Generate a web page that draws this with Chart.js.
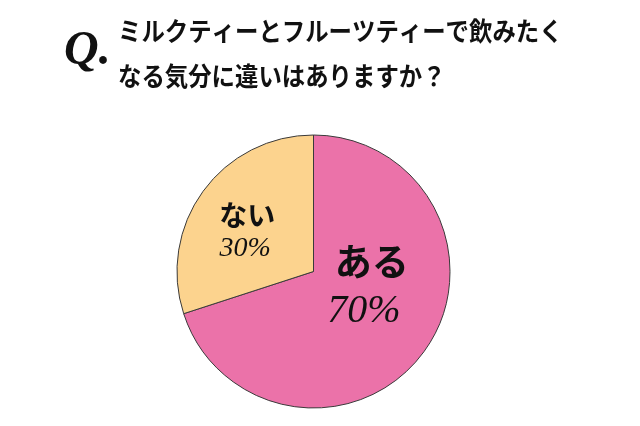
<!DOCTYPE html>
<html>
<head>
<meta charset="utf-8">
<script src="https://cdn.jsdelivr.net/npm/chart.js@4"></script>
<style>
  html, body { margin: 0; padding: 0; background: #ffffff; }
  #wrap { width: 640px; height: 426px; }
</style>
</head>
<body>
<div id="wrap"><canvas id="c" width="640" height="426"></canvas></div>
<script>
// ---- data ----
const categories = ['ある', 'ない'];
const values = [70, 30];
const percentLabels = ['70%', '30%'];
const titleLines = ['ミルクティーとフルーツティーで飲みたく', 'なる気分に違いはありますか？'];
const questionMark = 'Q.';

// ---- styles ----
const sliceColors = ['#EB72A9', '#FCD38E'];
const labelStyle = [
  { name: { dx: 0.427, dy: -0.069, font: '700 37px "Noto Sans CJK JP"' },
    pct:  { dx: 0.369, dy: 0.296,  font: 'italic 40px "Liberation Serif"' } },
  { name: { dx: -0.485, dy: -0.412, font: '700 28px "Noto Sans CJK JP"' },
    pct:  { dx: -0.50, dy: -0.164, font: 'italic 28px "Liberation Serif"' } }
];

const labelPlugin = {
  id: 'sliceLabels',
  afterDatasetsDraw(chart) {
    const ctx = chart.ctx;
    const meta = chart.getDatasetMeta(0);
    meta.data.forEach((arc, i) => {
      const r = arc.outerRadius;
      const st = labelStyle[i];
      ctx.save();
      ctx.fillStyle = '#111111';
      ctx.textAlign = 'center';
      ctx.textBaseline = 'middle';
      ctx.font = st.name.font;
      ctx.fillText(categories[i], arc.x + st.name.dx * r, arc.y + st.name.dy * r);
      ctx.font = st.pct.font;
      ctx.fillText(percentLabels[i], arc.x + st.pct.dx * r, arc.y + st.pct.dy * r);
      ctx.restore();
    });
  }
};

const titlePlugin = {
  id: 'qTitle',
  afterDraw(chart) {
    const ctx = chart.ctx;
    ctx.save();
    ctx.fillStyle = '#111111';
    ctx.textBaseline = 'middle';
    ctx.textAlign = 'left';
    // Q.
    ctx.font = 'italic 700 48px "Liberation Serif"';
    ctx.fillText(questionMark, 64, 52);
    // question text
    ctx.font = '700 26px "Noto Sans CJK JP"';
    const sx = 0.9;
    const ys = [31.5, 76.5];
    titleLines.forEach((t, i) => {
      ctx.save();
      ctx.translate(118, ys[i]);
      ctx.scale(sx, 1);
      ctx.fillText(t, 0, 0);
      ctx.restore();
    });
    ctx.restore();
  }
};

new Chart(document.getElementById('c'), {
  type: 'pie',
  data: {
    labels: categories,
    datasets: [{
      data: values,
      backgroundColor: sliceColors,
      borderColor: '#3a3a3a',
      borderWidth: 1
    }]
  },
  options: {
    responsive: false,
    animation: false,
    layout: { padding: { top: 134.5, bottom: 17.5, left: 0, right: 13 } },
    plugins: {
      legend: { display: false },
      tooltip: { enabled: false },
      title: { display: false }
    }
  },
  plugins: [labelPlugin, titlePlugin]
});
</script>
</body>
</html>
